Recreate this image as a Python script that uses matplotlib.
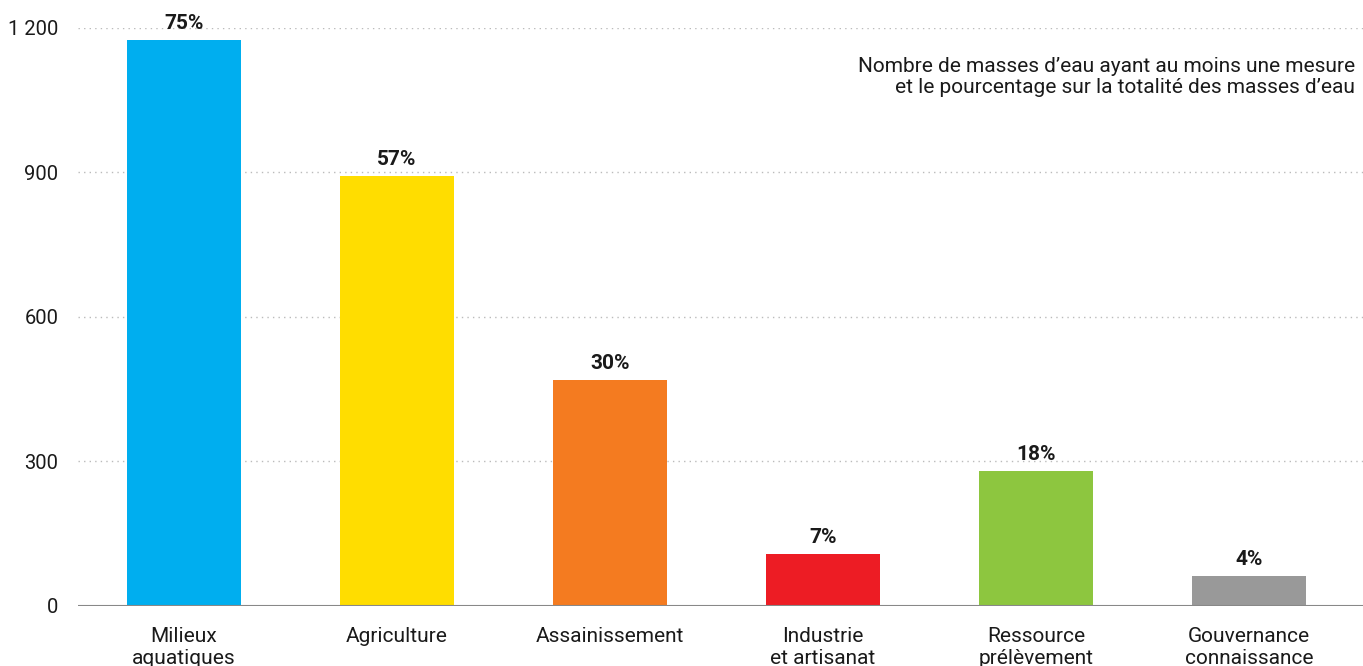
import matplotlib
matplotlib.use('Agg')
import matplotlib.pyplot as plt
import numpy as np

plt.rcParams['font.family'] = ['Roboto', 'DejaVu Sans']

categories = ['Milieux\naquatiques', 'Agriculture', 'Assainissement',
              'Industrie\net artisanat', 'Ressource\nprélèvement', 'Gouvernance\nconnaissance']
values = [1175, 893, 469, 108, 280, 62]
percents = ['75%', '57%', '30%', '7%', '18%', '4%']
colors = ['#00AEEF', '#FFDD00', '#F47B20', '#ED1C24', '#8DC63F', '#999999']
yticks = [0, 300, 600, 900, 1200]
yticklabels = ['0', '300', '600', '900', '1 200']

fig = plt.figure(figsize=(13.63, 6.66), dpi=100)
ax = fig.add_axes([0.0572, 0.0901, 0.9428, 0.8679])

x = np.arange(len(categories))
bars = ax.bar(x, values, width=0.535, color=colors, zorder=2)

for b, p in zip(bars, percents):
    ax.annotate(p, (b.get_x() + b.get_width() / 2, b.get_height()),
                xytext=(0, 5), textcoords='offset points',
                ha='center', va='bottom', fontsize=15, fontweight='bold', color='#1a1a1a')

ax.set_xlim(-0.498, 5.535)
ax.set_ylim(0, 1200)
ax.set_yticks(yticks)
ax.set_yticklabels(yticklabels)
ax.set_xticks(x)
ax.set_xticklabels(categories, linespacing=1.2)
ax.tick_params(axis='both', length=0, colors='#1a1a1a')
ax.tick_params(axis='x', pad=15, labelsize=15)
ax.tick_params(axis='y', pad=14, labelsize=14.5)

for y in yticks[1:]:
    ax.axhline(y, color='#bbbbbb', linestyle=(0, (1, 3)), linewidth=1, zorder=1)
ax.axhline(0, color='#888888', linewidth=1.5, zorder=3)

for s in ax.spines.values():
    s.set_visible(False)

ax.text(0.994, 0.95, "Nombre de masses d\u2019eau ayant au moins une mesure\net le pourcentage sur la totalité des masses d\u2019eau",
        transform=ax.transAxes, ha='right', va='top', fontsize=15, color='#1a1a1a', linespacing=1.12)

fig.savefig('out.png', dpi=100)
